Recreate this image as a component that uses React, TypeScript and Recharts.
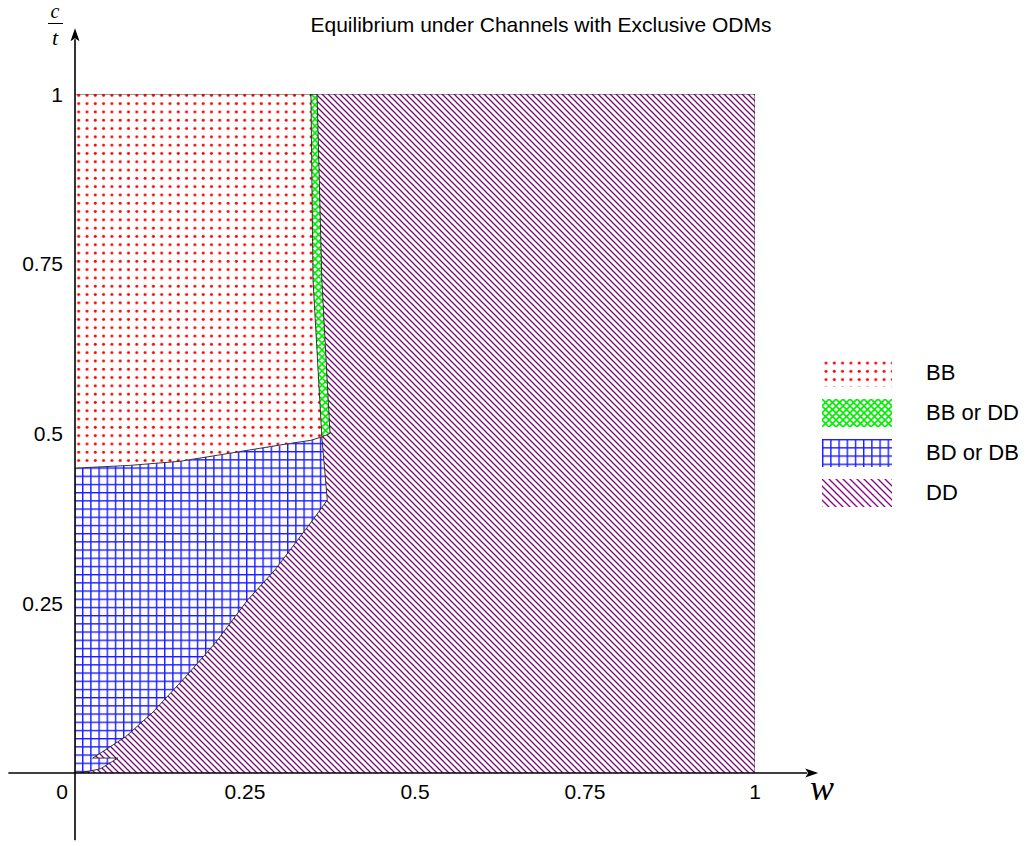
import React from 'react';
import { ComposedChart, Area, Line, XAxis, YAxis, ReferenceLine } from 'recharts';

// region names, legend order
const regionNames = ['BB', 'BB or DD', 'BD or DB', 'DD'];
const regionFills = ['url(#bbDots)', 'url(#mixCross)', 'url(#bdGrid)', 'url(#ddHatch)'];
const keyFills = ['url(#bbDots)', 'url(#mixCross)', 'url(#bdGrid)', 'url(#ddHatchKey)'];

// axis ticks
const wTicks = [0, 0.25, 0.5, 0.75, 1];
const cTicks = [0.25, 0.5, 0.75, 1];
const wAxisEnds = [-0.098, 1.093];
const cAxisEnds = [-0.099, 1.097];

// DD: the whole square
const ddW = [0, 1];
const ddLow = [0, 0];
const ddHigh = [1, 1];

// BD or DB (blue)
const bdW = [0, 0.007, 0.026, 0.026, 0.029, 0.074, 0.113, 0.162, 0.206, 0.254, 0.294, 0.35, 0.363, 0.371];
const bdLow = [0, 0, 0.003, 0.022, 0.024, 0.053, 0.088, 0.141, 0.191, 0.255, 0.299, 0.373, 0.391, 0.402];
const bdHigh = [0.449, 0.45, 0.451, 0.451, 0.451, 0.453, 0.456, 0.46, 0.467, 0.475, 0.481, 0.491, 0.495, 0.402];

// small blue sliver under the notch
const notchW = [0.026, 0.037, 0.063];
const notchLow = [0.003, 0.006, 0.022];
const notchHigh = [0.022, 0.022, 0.022];

// BB (red)
const bbW = [0, 0.08, 0.154, 0.228, 0.301, 0.347, 0.35, 0.363];
const bbLow = [0.449, 0.453, 0.459, 0.471, 0.483, 0.49, 0.491, 0.495];
const bbHigh = [1, 1, 1, 1, 1, 1, 0.726, 0.495];

// BB or DD (green strip)
const mixW = [0.347, 0.35, 0.356, 0.363, 0.375];
const mixLow = [1, 0.726, 0.62, 0.495, 0.5];
const mixHigh = [1, 1, 1, 0.726, 0.5];

// outer edge of the blue region (right side, lower curve, notch)
const bdEdgeW = [0.363, 0.371, 0.35, 0.294, 0.254, 0.206, 0.162, 0.113, 0.074, 0.029, 0.026, 0.063, 0.037, 0.007];
const bdEdgeC = [0.495, 0.402, 0.373, 0.299, 0.255, 0.191, 0.141, 0.088, 0.053, 0.024, 0.022, 0.022, 0.006, 0];

// top and right border of the square
const frameW = [0, 1, 1];
const frameC = [1, 1, 0];

const band = (w: number[], lo: number[], hi: number[]) => w.map((x, i) => ({ w: x, c: [lo[i], hi[i]] }));
const path = (w: number[], c: number[]) => w.map((x, i) => ({ w: x, c: c[i] }));

const sans = '"Liberation Sans", Arial, sans-serif';
const serif = '"Liberation Serif", "Times New Roman", serif';

const Arrow = (props: any) => {
  const { x1, y1, x2, y2 } = props;
  const dx = x2 - x1;
  const dy = y2 - y1;
  const len = Math.hypot(dx, dy) || 1;
  const ux = dx / len;
  const uy = dy / len;
  const head = 13;
  const half = 4.5;
  const bx = x2 - ux * head;
  const by = y2 - uy * head;
  return (
    <g>
      <line x1={x1} y1={y1} x2={bx + ux * 2} y2={by + uy * 2} stroke="#000" strokeWidth={1.6} />
      <polygon
        points={`${x2},${y2} ${bx - uy * half},${by + ux * half} ${bx + ux * 3},${by + uy * 3} ${bx + uy * half},${by - ux * half}`}
        fill="#000"
      />
    </g>
  );
};

const XTick = (props: any) => {
  const { x, y, payload } = props;
  const shift = payload.value === 0 ? -13 : 0;
  return (
    <text x={x + shift} y={y} dy="0.72em" textAnchor="middle" fontSize={21} fontFamily={sans} fill="#000">
      {String(payload.value)}
    </text>
  );
};

const YTick = (props: any) => {
  const { x, y, payload } = props;
  return (
    <text x={x} y={y} dy="0.36em" textAnchor="end" fontSize={21} fontFamily={sans} fill="#000">
      {String(payload.value)}
    </text>
  );
};

const edge = { stroke: '#222', strokeWidth: 0.9, dot: false, activeDot: false, isAnimationActive: false, type: 'linear' as const };

export default function App() {
  return (
    <div style={{ position: 'absolute', left: 0, top: 0, width: 1031, height: 846, background: '#fff' }}>
      <div
        style={{
          position: 'absolute', left: 241, top: 13, width: 600, textAlign: 'center',
          fontFamily: sans, fontSize: 21, lineHeight: '24px', color: '#000',
        }}
      >
        Equilibrium under Channels with Exclusive ODMs
      </div>
      <ComposedChart width={1031} height={846} margin={{ top: 94, right: 276, bottom: 43, left: 15 }}>
        <defs>
          <pattern id="bbDots" width={8.3} height={8.3} patternUnits="userSpaceOnUse">
            <rect width={8.3} height={8.3} fill="#fff" />
            <circle cx={4} cy={4} r={1.5} fill="#ff0000" />
          </pattern>
          <pattern id="mixCross" width={7} height={7} patternUnits="userSpaceOnUse">
            <rect width={7} height={7} fill="#fff" />
            <path d="M0,0 L7,7 M7,0 L0,7" stroke="#00ee00" strokeWidth={1.6} />
          </pattern>
          <pattern id="bdGrid" width={8.2} height={8.2} patternUnits="userSpaceOnUse">
            <rect width={8.2} height={8.2} fill="#fff" />
            <path d="M0.7,0 L0.7,8.2 M0,0.7 L8.2,0.7" stroke="#1a1aff" strokeWidth={1.4} />
          </pattern>
          <pattern id="ddHatch" width={6} height={6} patternUnits="userSpaceOnUse">
            <rect width={6} height={6} fill="#fff" />
            <path d="M0,0 L6,6 M-1,5 L1,7 M5,-1 L7,1" stroke="#7d007d" strokeWidth={1.25} />
          </pattern>
          <pattern id="ddHatchKey" width={7} height={7} patternUnits="userSpaceOnUse">
            <rect width={7} height={7} fill="#fff" />
            <path d="M0,0 L7,7 M-1,6 L1,8 M6,-1 L8,1" stroke="#8a008a" strokeWidth={1.3} />
          </pattern>
        </defs>
        <XAxis
          dataKey="w"
          type="number"
          domain={[0, 1]}
          ticks={wTicks}
          allowDataOverflow
          axisLine={false}
          tickLine={false}
          tickSize={0}
          tickMargin={11}
          height={30}
          tick={<XTick />}
        />
        <YAxis
          type="number"
          domain={[0, 1]}
          ticks={cTicks}
          allowDataOverflow
          axisLine={false}
          tickLine={false}
          tickSize={0}
          tickMargin={12}
          width={60}
          tick={<YTick />}
        />
        <Area data={band(ddW, ddLow, ddHigh)} dataKey="c" type="linear" fill={regionFills[3]} fillOpacity={1} stroke="none" isAnimationActive={false} activeDot={false} />
        <Area data={band(bdW, bdLow, bdHigh)} dataKey="c" type="linear" fill={regionFills[2]} fillOpacity={1} stroke="none" isAnimationActive={false} activeDot={false} />
        <Area data={band(notchW, notchLow, notchHigh)} dataKey="c" type="linear" fill={regionFills[2]} fillOpacity={1} stroke="none" isAnimationActive={false} activeDot={false} />
        <Area data={band(bbW, bbLow, bbHigh)} dataKey="c" type="linear" fill={regionFills[0]} fillOpacity={1} stroke="none" isAnimationActive={false} activeDot={false} />
        <Area data={band(mixW, mixLow, mixHigh)} dataKey="c" type="linear" fill={regionFills[1]} fillOpacity={1} stroke="none" isAnimationActive={false} activeDot={false} />
        <Line data={path(bbW, bbLow)} dataKey="c" {...edge} />
        <Line data={path(mixW, mixLow)} dataKey="c" {...edge} />
        <Line data={path(mixW, mixHigh)} dataKey="c" {...edge} />
        <Line data={path(bdEdgeW, bdEdgeC)} dataKey="c" {...edge} />
        <Line data={path(frameW, frameC)} dataKey="c" {...edge} />
        <ReferenceLine
          segment={[{ x: wAxisEnds[0], y: 0 }, { x: wAxisEnds[1], y: 0 }]}
          ifOverflow="visible"
          shape={(p: any) => <Arrow {...p} />}
        />
        <ReferenceLine
          segment={[{ x: 0, y: cAxisEnds[0] }, { x: 0, y: cAxisEnds[1] }]}
          ifOverflow="visible"
          shape={(p: any) => <Arrow {...p} />}
        />
      </ComposedChart>
      {/* axis names */}
      <div style={{ position: 'absolute', left: 44, top: 0, width: 22, textAlign: 'center', fontFamily: serif, fontStyle: 'italic', fontSize: 20, lineHeight: 'normal' }}>c</div>
      <div style={{ position: 'absolute', left: 48, top: 23, width: 15, height: 1.3, background: '#000' }} />
      <div style={{ position: 'absolute', left: 44, top: 27, width: 22, textAlign: 'center', fontFamily: serif, fontStyle: 'italic', fontSize: 22, lineHeight: '22px' }}>t</div>
      <div style={{ position: 'absolute', left: 810, top: 770, fontFamily: serif, fontStyle: 'italic', fontSize: 36, lineHeight: '36px' }}>w</div>
      {/* legend */}
      <div style={{ position: 'absolute', left: 822, top: 353 }}>
        {regionNames.map((name, i) => (
          <div key={name} style={{ display: 'flex', alignItems: 'center', height: 40 }}>
            <svg width={70} height={28} style={{ display: 'block' }}>
              <rect width={70} height={28} fill={keyFills[i]} />
            </svg>
            <span style={{ marginLeft: 34, fontFamily: sans, fontSize: 22, lineHeight: '22px', whiteSpace: 'nowrap' }}>{name}</span>
          </div>
        ))}
      </div>
    </div>
  );
}
